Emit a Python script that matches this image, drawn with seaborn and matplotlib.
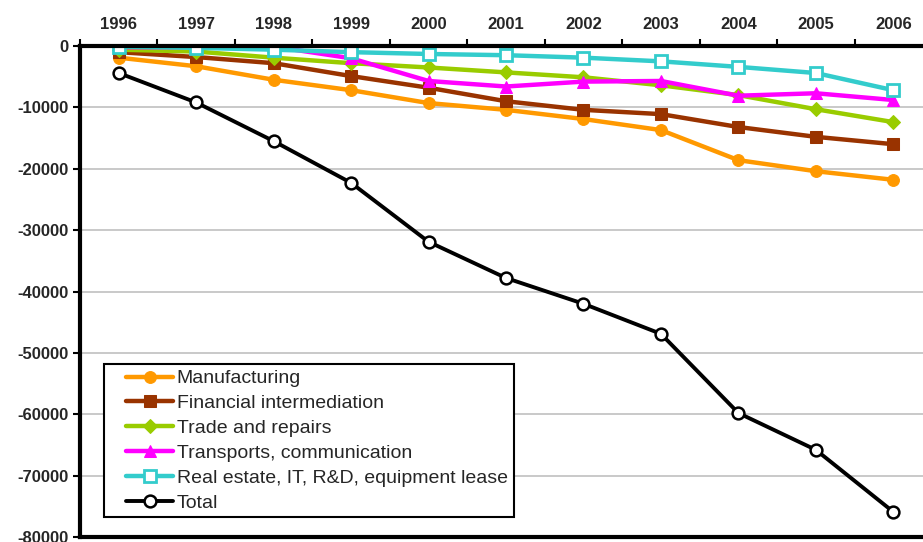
import matplotlib
matplotlib.use("Agg")
import matplotlib.pyplot as plt
from matplotlib.legend_handler import HandlerLine2D
import seaborn as sns
import numpy as np

years = [1996, 1997, 1998, 1999, 2000, 2001, 2002, 2003, 2004, 2005, 2006]

manufacturing = [-1900, -3300, -5500, -7200, -9300, -10400, -11900, -13700, -18600, -20400, -21800]
financial = [-1000, -1800, -2800, -4900, -6800, -9000, -10400, -11100, -13200, -14800, -16000]
trade = [-600, -900, -1900, -2800, -3500, -4300, -5100, -6400, -8000, -10300, -12400]
transports = [-200, -200, -100, -2000, -5700, -6600, -5800, -5700, -8100, -7700, -8800]
real_estate = [-100, -300, -600, -1000, -1300, -1500, -1900, -2500, -3400, -4400, -7200]
total = [-4400, -9200, -15500, -22300, -31900, -37800, -42000, -46900, -59800, -65800, -75900]


class PaddedLine(HandlerLine2D):
    # leaves some blank room left of the legend line, like the original
    def create_artists(self, legend, orig_handle, xdescent, ydescent, width, height, fontsize, trans):
        pad = 12
        return super().create_artists(legend, orig_handle, xdescent - pad, ydescent,
                                      width - pad, height, fontsize, trans)


sns.set_style("white")
plt.rcParams['font.family'] = ['Liberation Sans', 'DejaVu Sans']

fig = plt.figure(figsize=(9.23, 5.42), dpi=100)
ax = fig.add_axes([80 / 923, 5 / 542, 852 / 923, 491 / 542])

lw = 3.2
ms = 8.5
sns.lineplot(x=years, y=manufacturing, ax=ax, color='#FF9900', lw=lw, marker='o', ms=ms,
             mec='#FF9900', label='Manufacturing')
sns.lineplot(x=years, y=financial, ax=ax, color='#993300', lw=lw, marker='s', ms=ms,
             mec='#993300', label='Financial intermediation')
sns.lineplot(x=years, y=trade, ax=ax, color='#99CC00', lw=lw, marker='D', ms=7,
             mec='#99CC00', label='Trade and repairs')
sns.lineplot(x=years, y=transports, ax=ax, color='#FF00FF', lw=lw, marker='^', ms=9,
             mec='#FF00FF', label='Transports, communication')
sns.lineplot(x=years, y=real_estate, ax=ax, color='#33CCCC', lw=lw, marker='s', ms=ms,
             mfc='white', mec='#33CCCC', mew=2, label='Real estate, IT, R&D, equipment lease')
sns.lineplot(x=years, y=total, ax=ax, color='black', lw=2.8, marker='o', ms=ms,
             mfc='white', mec='black', mew=1.8, label='Total')

ax.set_xlim(1995.5, 2006.5)
ax.set_ylim(-80000, 0)
ax.set_yticks(np.arange(-80000, 1, 10000))
ax.set_yticklabels([str(v) for v in range(-80000, 1, 10000)], fontsize=12, fontweight='bold')
ax.yaxis.grid(True, color='#C0C0C0', lw=1.2)
ax.xaxis.grid(False)

ax.xaxis.tick_top()
ax.set_xticks(years)
ax.set_xticklabels([str(y) for y in years], fontsize=12, fontweight='bold')
ax.set_xticks(np.arange(1995.5, 2007, 1), minor=True)
ax.tick_params(axis='x', which='major', length=0, pad=10)
ax.tick_params(axis='x', which='minor', length=5, width=1.5, color='black', top=True, bottom=False, direction='out')
ax.tick_params(axis='y', length=5, width=1.5, color='black', left=True, direction='out', pad=3)

for side in ['left', 'top', 'bottom']:
    ax.spines[side].set_color('black')
    ax.spines[side].set_linewidth(3)
ax.spines['right'].set_visible(False)

handles, labels = ax.get_legend_handles_labels()
leg = ax.legend(handles, labels, loc='lower left', bbox_to_anchor=(0.028, 0.04), fontsize=14,
                frameon=True, fancybox=False, edgecolor='black', framealpha=1,
                handlelength=3.25, handletextpad=0.2, labelspacing=0.37, borderpad=0.3,
                borderaxespad=0, handler_map={h: PaddedLine() for h in handles})
leg.get_frame().set_linewidth(1.5)

ax.set_xlabel('')
ax.set_ylabel('')
fig.savefig('out.png', dpi=100)
